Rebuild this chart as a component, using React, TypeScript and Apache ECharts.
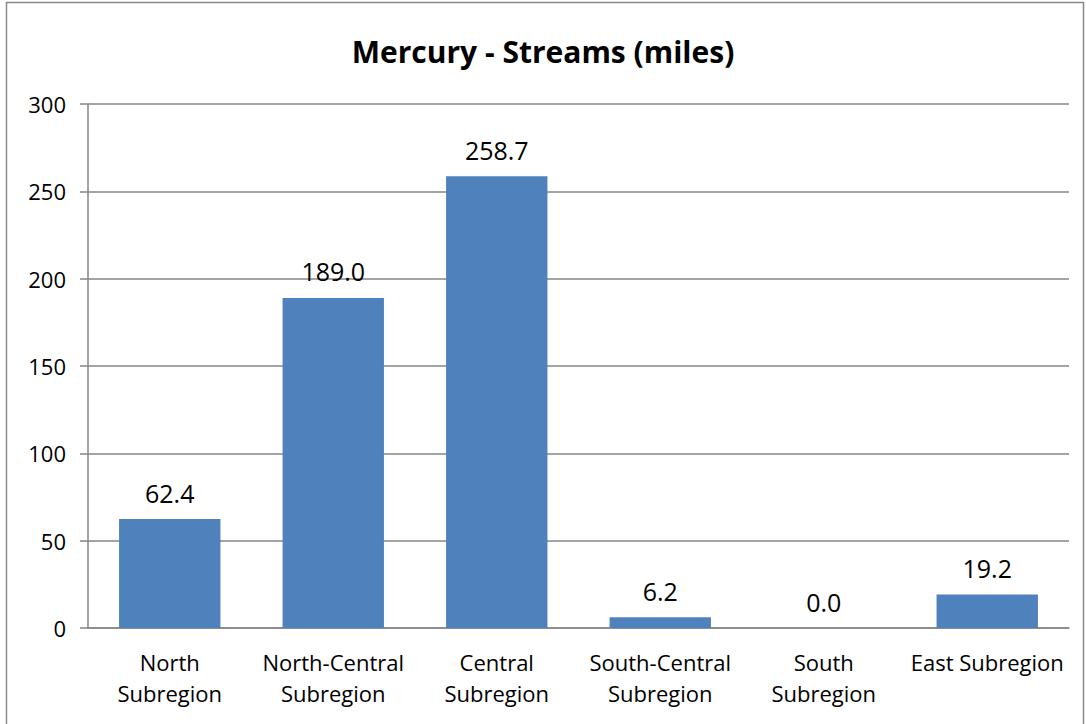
import React, { useEffect, useRef } from "react";
import * as echarts from "echarts";

const categories = [
  "North\nSubregion",
  "North-Central\nSubregion",
  "Central\nSubregion",
  "South-Central\nSubregion",
  "South\nSubregion",
  "East Subregion",
];
const values = [62.4, 189.0, 258.7, 6.2, 0.0, 19.2];
const titleText = "Mercury - Streams (miles)";

const FONT = "'Open Sans', 'Noto Sans', sans-serif";

export default function App() {
  const ref = useRef<HTMLDivElement>(null);
  useEffect(() => {
    if (!ref.current) return;
    const chart = echarts.init(ref.current, null, { renderer: "svg" });
    chart.setOption({
      animation: false,
      backgroundColor: "#ffffff",
      title: {
        text: titleText,
        left: "center",
        top: 31,
        textStyle: { fontFamily: FONT, fontSize: 30, fontWeight: "bold", color: "#000" },
      },
      graphic: [
        {
          type: "rect",
          shape: { x: 6.5, y: 2.5, width: 1077, height: 740 },
          style: { fill: "none", stroke: "#8a8a8a", lineWidth: 1.5 },
          silent: true,
          z: -1,
        },
      ],
      grid: { left: 88, right: 17, top: 104, bottom: 96, containLabel: false },
      xAxis: {
        type: "category",
        data: categories,
        axisLine: { lineStyle: { color: "#868686", width: 1.5 } },
        axisTick: { show: false },
        axisLabel: {
          fontFamily: FONT,
          fontSize: 22,
          color: "#000",
          lineHeight: 31,
          margin: 18,
          interval: 0,
        },
      },
      yAxis: {
        type: "value",
        min: 0,
        max: 300,
        interval: 50,
        axisLine: { show: true, lineStyle: { color: "#868686", width: 1.5 } },
        axisTick: { show: true, length: 8, lineStyle: { color: "#868686", width: 1.5 } },
        splitLine: { lineStyle: { color: "#868686", width: 1.5 } },
        axisLabel: { fontFamily: FONT, fontSize: 22, color: "#000", margin: 22 },
      },
      series: [
        {
          type: "bar",
          data: values,
          barWidth: "62%",
          itemStyle: { color: "#4f81bd" },
          label: {
            show: true,
            position: "top",
            distance: 14,
            fontFamily: FONT,
            fontSize: 25,
            color: "#000",
            formatter: (p: any) => Number(p.value).toFixed(1),
          },
        },
      ],
    });
    return () => chart.dispose();
  }, []);
  return (
    <div
      ref={ref}
      style={{ position: "absolute", left: 0, top: 0, width: 1086, height: 724 }}
    />
  );
}
